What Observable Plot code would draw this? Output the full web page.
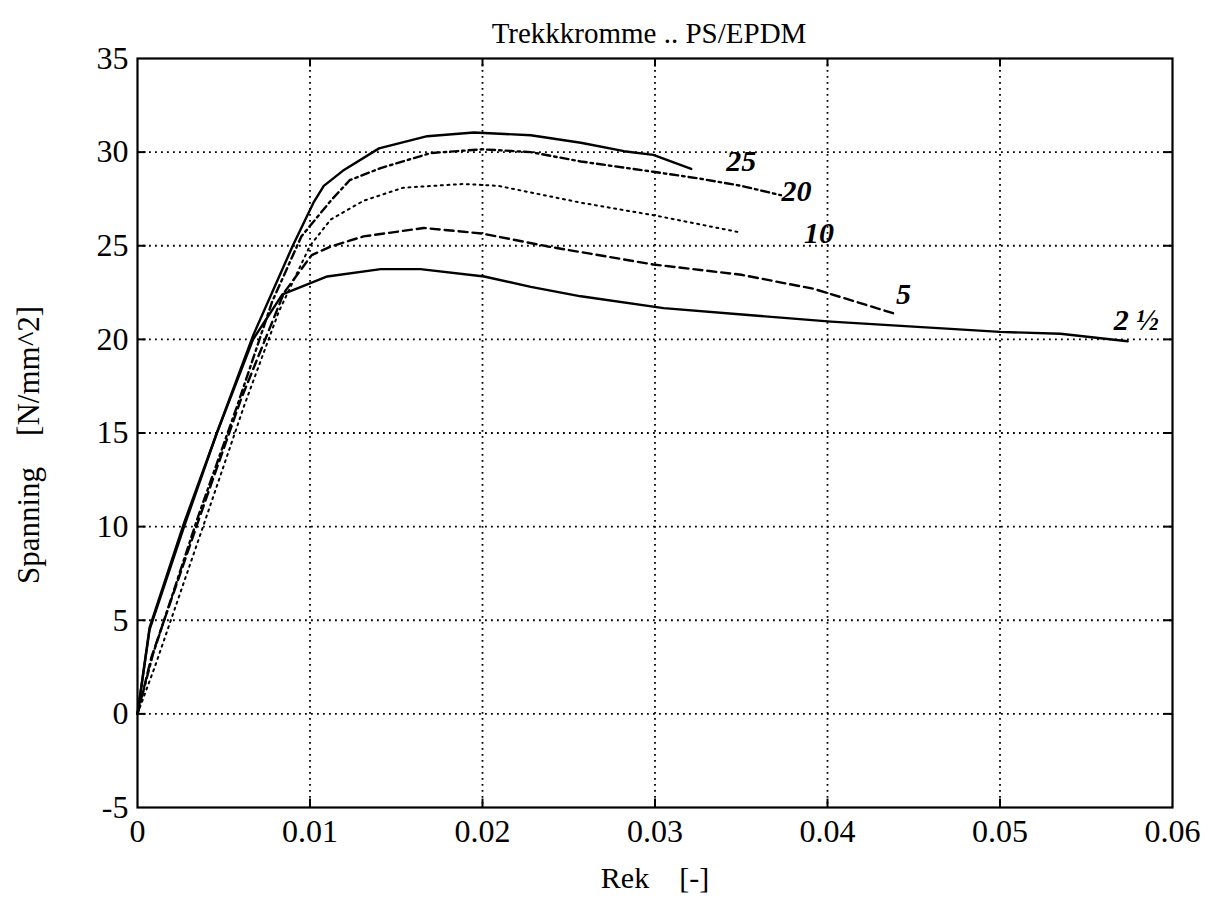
<!DOCTYPE html>
<html><head><meta charset="utf-8">
<script src="https://cdn.jsdelivr.net/npm/d3@7"></script>
<script src="https://cdn.jsdelivr.net/npm/@observablehq/plot@0.6"></script>
<style>body{margin:0;background:#fff}</style>
</head><body><div id="chart"></div>
<script>
const title = "Trekkkromme .. PS/EPDM";
const xLabel = "Rek\u00a0\u00a0\u00a0\u00a0[-]";
const yLabel = "Spanning\u00a0\u00a0\u00a0\u00a0[N/mm^2]";
const xTicks = [0, 0.01, 0.02, 0.03, 0.04, 0.05, 0.06];
const yTicks = [-5, 0, 5, 10, 15, 20, 25, 30, 35];

const s25 = [[0,0],[0.0007,4.6],[0.0027,10.2],[0.0046,15],[0.0067,20.2],[0.009,25],[0.0102,27.3],[0.0108,28.2],[0.0119,29.0],[0.014,30.2],[0.0168,30.85],[0.0195,31.05],[0.0228,30.9],[0.0257,30.5],[0.0282,30.05],[0.0299,29.85],[0.0321,29.1]];
const s20 = [[0,0],[0.0009,3.2],[0.0035,10.5],[0.0058,16.5],[0.0078,22],[0.0095,25.5],[0.0112,27.4],[0.0123,28.5],[0.0141,29.15],[0.017,29.95],[0.02,30.15],[0.0228,30.0],[0.0257,29.5],[0.0299,28.95],[0.0325,28.6],[0.035,28.2],[0.0373,27.7]];
const s10 = [[0,0],[0.001,2.5],[0.0038,10],[0.0062,16.5],[0.0082,21.5],[0.01,25],[0.0112,26.4],[0.0131,27.4],[0.0154,28.1],[0.0189,28.3],[0.0209,28.2],[0.0257,27.3],[0.0301,26.6],[0.035,25.7]];
const s5 = [[0,0],[0.0008,3],[0.0036,10.5],[0.006,16.8],[0.0085,22.5],[0.0101,24.5],[0.0112,24.96],[0.0131,25.5],[0.0166,25.95],[0.02,25.65],[0.0238,24.96],[0.0299,24.0],[0.035,23.45],[0.0392,22.7],[0.0438,21.4]];
const s2_5 = [[0,0],[0.0007,4.5],[0.0027,10],[0.0046,15],[0.0067,20],[0.0084,22.4],[0.011,23.36],[0.0141,23.75],[0.0164,23.75],[0.0201,23.36],[0.0228,22.8],[0.0257,22.3],[0.0305,21.67],[0.0354,21.3],[0.0402,20.95],[0.05,20.4],[0.0535,20.3],[0.0574,19.9]];

const labelText = ["25", "20", "10", "5", "2 ½"];
const labelX = [0.035, 0.0382, 0.0395, 0.0444, 0.0579];
const labelY = [29.5, 27.9, 25.65, 22.4, 21.0];

const serif = "'Liberation Serif', 'DejaVu Serif', serif";
const labels = labelText.map((t, i) => ({t, x: labelX[i], y: labelY[i]}));
const innerX = xTicks.slice(1, -1);
const innerY = yTicks.slice(1, -1);

const chart = Plot.plot({
  width: 1221, height: 914,
  marginLeft: 137, marginRight: 49, marginTop: 58, marginBottom: 107,
  style: {fontFamily: serif, background: "#fff", color: "#000"},
  x: {domain: [0, 0.06], label: null},
  y: {domain: [-5, 35], label: null},
  marks: [
    Plot.gridX(innerX, {stroke: "#000", strokeOpacity: 1, strokeWidth: 1.8, strokeDasharray: "1.8,4.2"}),
    Plot.gridY(innerY, {stroke: "#000", strokeOpacity: 1, strokeWidth: 1.8, strokeDasharray: "1.8,4.2"}),
    Plot.ruleY(innerY, {y: d => d, x1: 0, x2: 0.0005, stroke: "#000", strokeWidth: 2}),
    Plot.ruleY(innerY, {y: d => d, x1: 0.0595, x2: 0.06, stroke: "#000", strokeWidth: 2}),
    Plot.ruleX(innerX, {x: d => d, y1: -5, y2: -4.55, stroke: "#000", strokeWidth: 2}),
    Plot.ruleX(innerX, {x: d => d, y1: 34.55, y2: 35, stroke: "#000", strokeWidth: 2}),
    Plot.axisX(xTicks, {tickSize: 0, tickPadding: 12, fontSize: 32, fontFamily: serif, fill: "#000",
      tickFormat: d => d === 0 ? "0" : String(+d.toFixed(2)), label: null}),
    Plot.axisY(yTicks, {tickSize: 0, tickPadding: 9, fontSize: 32, fontFamily: serif, fill: "#000",
      tickFormat: d => String(d), label: null}),
    Plot.line(s25, {x: d => d[0], y: d => d[1], stroke: "#000", strokeWidth: 2.4}),
    Plot.line(s20, {x: d => d[0], y: d => d[1], stroke: "#000", strokeWidth: 2.4, strokeDasharray: "8,4,2.5,4"}),
    Plot.line(s10, {x: d => d[0], y: d => d[1], stroke: "#000", strokeWidth: 2, strokeDasharray: "2,4.5"}),
    Plot.line(s5, {x: d => d[0], y: d => d[1], stroke: "#000", strokeWidth: 2.4, strokeDasharray: "9,5"}),
    Plot.line(s2_5, {x: d => d[0], y: d => d[1], stroke: "#000", strokeWidth: 2.4}),
    Plot.text(labels, {x: "x", y: "y", text: "t", fontSize: 30, fontStyle: "italic", fontWeight: "bold", fontFamily: serif, fill: "#000"}),
    Plot.frame({stroke: "#000", strokeWidth: 2.2}),
    Plot.text([title], {frameAnchor: "top", dx: -6, dy: -36, fontSize: 29, fontFamily: serif, fill: "#000", text: d => d}),
    Plot.text([xLabel], {frameAnchor: "bottom", dy: 80, fontSize: 30, fontFamily: serif, fill: "#000", text: d => d}),
    Plot.text([yLabel], {frameAnchor: "left", textAnchor: "middle", dx: -108, dy: 12, rotate: -90, fontSize: 31, fontFamily: serif, fill: "#000", text: d => d})
  ]
});
document.getElementById("chart").appendChild(chart);
</script>
</body></html>
